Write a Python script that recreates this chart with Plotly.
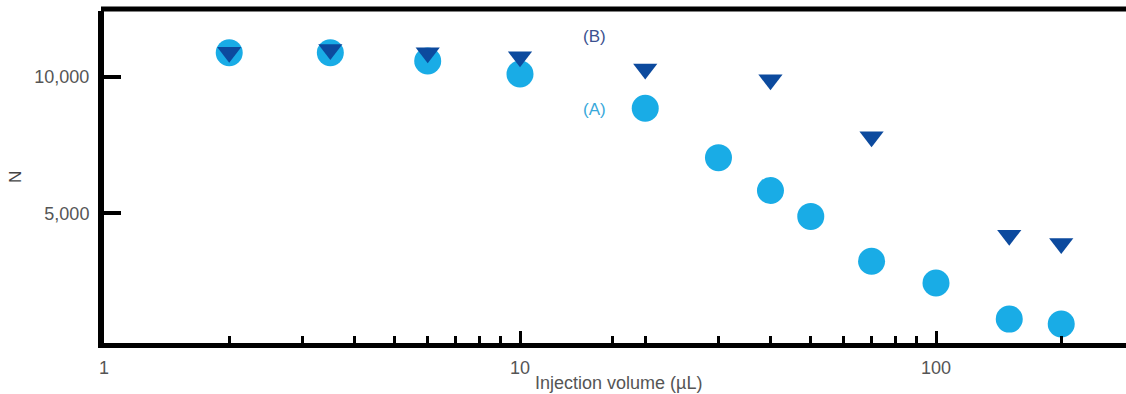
import plotly.graph_objects as go

# Data
vol_A = [2, 3.5, 6, 10, 20, 30, 40, 50, 70, 100, 150, 200]
N_A = [10880, 10880, 10580, 10100, 8850, 7040, 5840, 4890, 3250, 2450, 1130, 950]
vol_B = [2, 3.5, 6, 10, 20, 40, 70, 150, 200]
N_B = [10900, 11000, 10880, 10730, 10290, 9890, 7810, 4200, 3900]

x_major = [1, 10, 100]
x_major_text = ["1", "10", "100"]
x_minor = [2, 3, 4, 5, 6, 7, 8, 9, 16.7, 20, 30, 40, 50, 60, 70, 80, 90, 200]
y_ticks = [5000, 10000]
y_ticktext = ["5,000", "10,000"]

colA = "#19ace6"
colB = "#0c4a9e"
font = "Liberation Sans, Arial, sans-serif"
txt = "#555555"

L, R, T, B = 104, 8, 11, 51
PW, PH = 1126 - L - R, 394 - T - B
decade = 416.0

fig = go.Figure()
fig.add_trace(go.Scatter(x=vol_A, y=N_A, mode="markers", name="(A)",
                         marker=dict(symbol="circle", size=27, color=colA, line=dict(width=0))))
fig.add_trace(go.Scatter(x=vol_B, y=N_B, mode="markers", name="(B)",
                         marker=dict(symbol="triangle-down", size=21, color=colB, line=dict(width=0))))

fig.update_layout(
    width=1126, height=394,
    margin=dict(l=L, r=R, t=T, b=B, pad=0),
    paper_bgcolor="white", plot_bgcolor="white",
    showlegend=False,
    font=dict(family=font, size=18, color=txt),
    xaxis=dict(type="log", range=[0, PW / decade], showgrid=False, zeroline=False,
               showline=True, linecolor="black", linewidth=5, mirror=False,
               tickvals=x_major, ticktext=x_major_text,
               ticks="inside", ticklen=12, tickwidth=3, tickcolor="black",
               minor=dict(tickvals=x_minor, ticks="inside", ticklen=7, tickwidth=3, tickcolor="black"),
               ticklabelstandoff=4,
               tickfont=dict(family=font, size=18, color=txt)),
    yaxis=dict(range=[255, 12409], showgrid=False, zeroline=False,
               showline=True, linecolor="black", linewidth=6,
               tickvals=y_ticks, ticktext=y_ticktext, ticklabelstandoff=5,
               ticks="inside", ticklen=17, tickwidth=4, tickcolor="black",
               tickfont=dict(family=font, size=18, color=txt)),
    shapes=[
        dict(type="line", xref="paper", yref="paper", x0=-3 / PW, x1=1 + (R + 2) / PW,
             y0=1 + 2 / PH, y1=1 + 2 / PH, line=dict(color="black", width=5)),
        dict(type="line", xref="paper", yref="paper", x0=0.99, x1=1 + (R + 2) / PW,
             y0=-2.5 / PH, y1=-2.5 / PH, line=dict(color="black", width=5)),
    ],
    annotations=[
        dict(text="(B)", x=(594 - L) / PW, y=1 - (37 - T) / PH, xref="paper", yref="paper",
             xanchor="center", yanchor="middle", showarrow=False,
             font=dict(family=font, size=17, color="#3b5190")),
        dict(text="(A)", x=(594 - L) / PW, y=1 - (110 - T) / PH, xref="paper", yref="paper",
             xanchor="center", yanchor="middle", showarrow=False,
             font=dict(family=font, size=17, color="#38a8da")),
        dict(text="N", x=(15 - L) / PW, y=0.5, xref="paper", yref="paper", showarrow=False, textangle=-90,
             xanchor="center", yanchor="middle", font=dict(family=font, size=17, color="#444444")),
        dict(text="Injection volume (µL)", x=(618 - L) / PW, y=-(383 - (394 - B)) / PH,
             xref="paper", yref="paper", xanchor="center", yanchor="middle", showarrow=False,
             font=dict(family=font, size=18, color=txt)),
    ],
)

fig.write_html("out.html")
